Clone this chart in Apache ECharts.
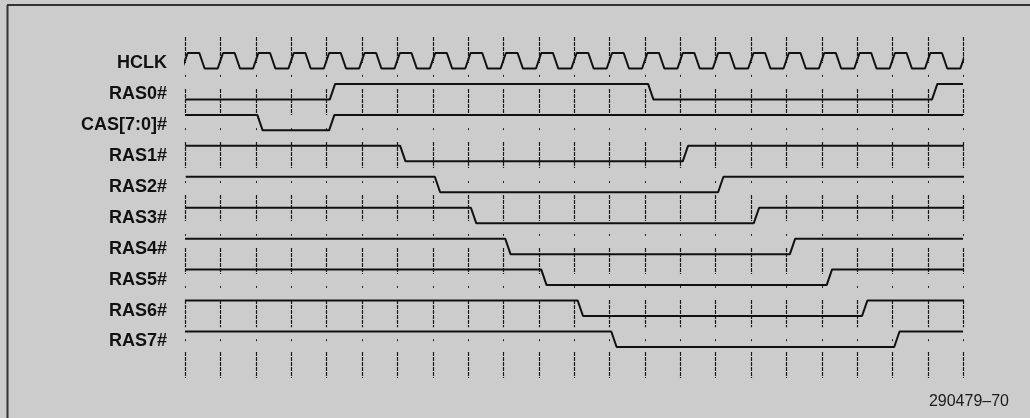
<!DOCTYPE html>
<html>
<head>
<meta charset="utf-8">
<script src="https://cdn.jsdelivr.net/npm/echarts@6/dist/echarts.min.js"></script>
<style>
  html, body { margin: 0; padding: 0; background: #cccccc; }
  #chart { width: 1030px; height: 418px; }
</style>
</head>
<body>
<div id="chart"></div>
<script>
// signal names, top to bottom
const signalNames = ['HCLK', 'RAS0#', 'CAS[7:0]#', 'RAS1#', 'RAS2#', 'RAS3#', 'RAS4#', 'RAS5#', 'RAS6#', 'RAS7#']

// clock edges (in HCLK periods)
const hclkRise = [0, 1, 2, 3, 4, 5, 6, 7, 8, 9, 10, 11, 12, 13, 14, 15, 16, 17, 18, 19, 20, 21, 22]
const hclkFall = [0.48, 1.48, 2.48, 3.48, 4.48, 5.48, 6.48, 7.48, 8.48, 9.48, 10.48,
  11.48, 12.48, 13.48, 14.48, 15.48, 16.48, 17.48, 18.48, 19.48, 20.48, 21.48]

// transition times of the other signals (centre of each edge)
const ras0Edges = [4.17, 13.17, 21.2]
const casEdges = [2.12, 4.15]
const ras1Edges = [6.16, 14.15]
const ras2Edges = [7.14, 15.15]
const ras3Edges = [8.16, 16.16]
const ras4Edges = [9.13, 17.18]
const ras5Edges = [10.15, 18.22]
const ras6Edges = [11.18, 19.22]
const ras7Edges = [12.13, 20.13]

// level at start (1 = high, 0 = low), start / end time of each trace
const startLevels = [0, 0, 1, 1, 1, 1, 1, 1, 1, 1]
const startTimes = [-0.08, 0, 0, 0, 0.02, 0, 0, 0, 0, 0]
const endTimes = [22.1, 22, 22, 22.1, 22.05, 22.03, 22, 22.03, 22.03, 22]

const figureId = '290479–70'

const edgeLists = [
  hclkRise.concat(hclkFall).sort((a, b) => a - b),
  ras0Edges, casEdges, ras1Edges, ras2Edges, ras3Edges,
  ras4Edges, ras5Edges, ras6Edges, ras7Edges
]

const SLEW = 0.15
const SWING = 0.5

function buildWave(row) {
  let level = startLevels[row]
  const y = (lv) => row + (lv ? 0 : SWING)
  const pts = [[startTimes[row], y(level)]]
  edgeLists[row].forEach(e => {
    pts.push([e - SLEW / 2, y(level)])
    level = 1 - level
    pts.push([e + SLEW / 2, y(level)])
  })
  pts.push([endTimes[row], y(level)])
  return pts
}

// dotted guide segments under each clock edge, in row units
const GUIDE_SEGS = [[-0.52, 0.32], [1.16, 2.0], [2.88, 3.72], [4.59, 5.43], [6.3, 7.14], [7.98, 8.86], [9.66, 10.5]]
const GUIDE_DOTS = [0.74, 2.46, 4.17, 5.88, 7.56, 9.28]

const chart = echarts.init(document.getElementById('chart'))

const waveSeries = signalNames.map((name, i) => ({
  name,
  type: 'line',
  data: buildWave(i),
  showSymbol: false,
  clip: false,
  z: 3,
  lineStyle: { color: '#111', width: 2 }
}))

chart.setOption({
  backgroundColor: '#cccccc',
  animation: false,
  title: {
    text: figureId,
    right: 16,
    top: 389,
    textStyle: { fontFamily: 'Liberation Sans', fontSize: 16, fontWeight: 'normal', color: '#1a1a1a' }
  },
  grid: { left: 185, right: 67, top: 53, bottom: 86.5 },
  xAxis: { type: 'value', min: 0, max: 22, show: false },
  yAxis: {
    type: 'value',
    inverse: true,
    min: 0,
    max: 9,
    interval: 1,
    axisLine: { show: false },
    axisTick: { show: false },
    splitLine: { show: false },
    axisLabel: {
      margin: 18,
      verticalAlign: 'top',
      lineHeight: 20,
      fontFamily: 'Liberation Sans',
      fontSize: 18,
      fontWeight: 'bold',
      color: '#111',
      formatter: (v) => signalNames[v] || ''
    }
  },
  graphic: [
    { type: 'line', shape: { x1: 7, y1: 5, x2: 1030, y2: 5 }, style: { stroke: '#333', lineWidth: 2 } },
    { type: 'line', shape: { x1: 7.5, y1: 5, x2: 7.5, y2: 418 }, style: { stroke: '#333', lineWidth: 2 } }
  ],
  series: [
    {
      type: 'custom',
      data: hclkRise,
      clip: false,
      z: 1,
      renderItem: (params, api) => {
        const t = api.value(0)
        const x = Math.round(api.coord([t, 0])[0]) + 0.5
        const yOf = (r) => api.coord([t, r])[1]
        const children = GUIDE_SEGS.map(s => ({
          type: 'line',
          shape: { x1: x, y1: yOf(s[0]), x2: x, y2: yOf(s[1]) },
          style: { stroke: '#1a1a1a', lineWidth: 1.2, lineDash: [4, 1] }
        }))
        GUIDE_DOTS.forEach(d => {
          const yy = yOf(d)
          children.push({
            type: 'line',
            shape: { x1: x, y1: yy - 1, x2: x, y2: yy + 1 },
            style: { stroke: '#222', lineWidth: 1 }
          })
        })
        return { type: 'group', children }
      }
    }
  ].concat(waveSeries)
})
</script>
</body>
</html>
